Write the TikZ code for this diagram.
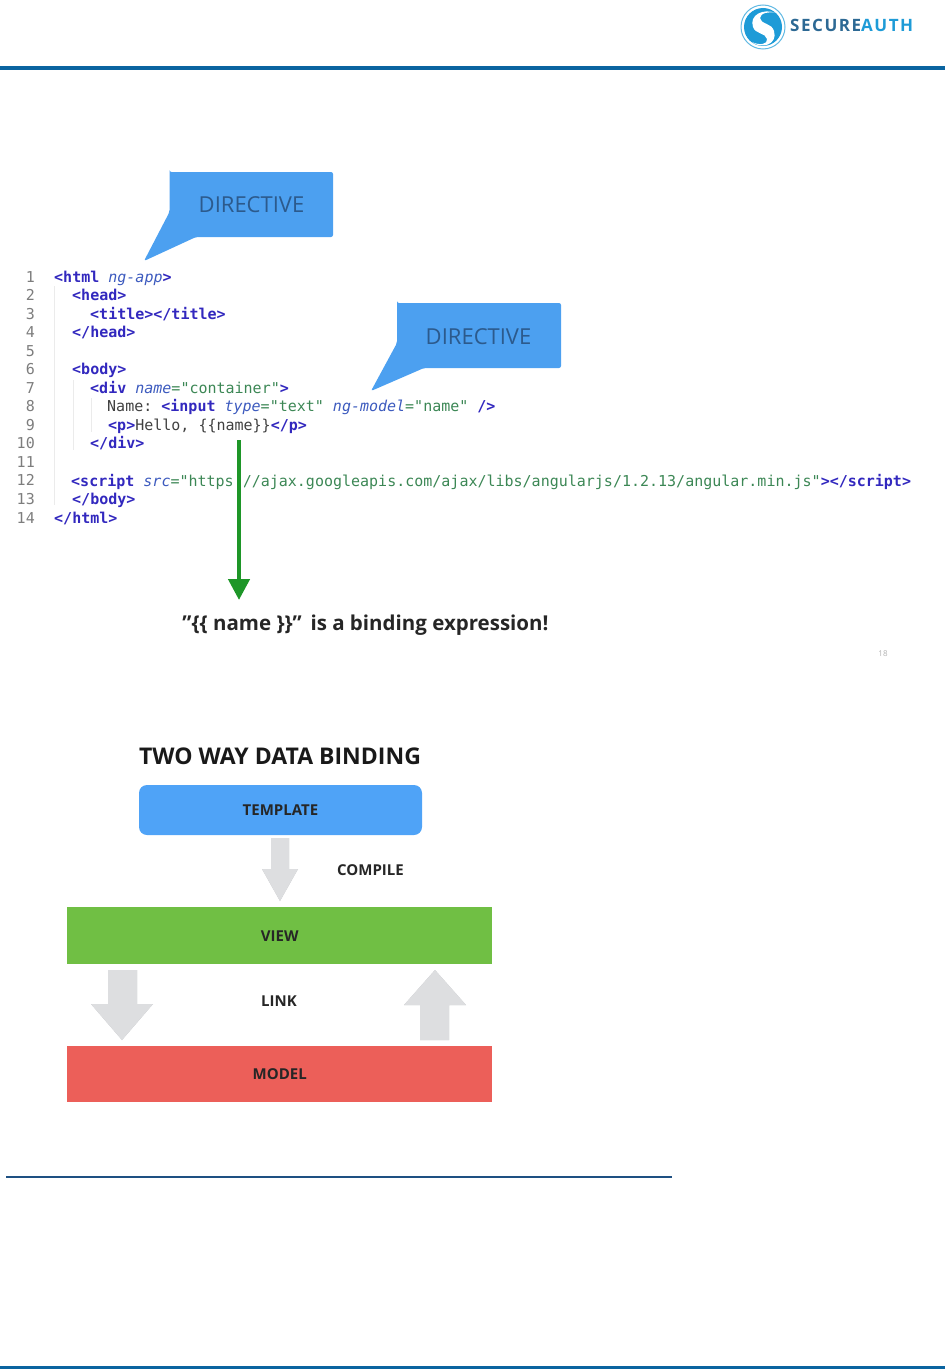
\documentclass[tikz,border=0pt]{standalone}
\usepackage{fontspec}
\setmonofont{DejaVu Sans Mono}
\setsansfont{Open Sans}
\newfontfamily\logofont[LetterSpace=9]{Open Sans}
\usepackage{tkz-euclide}
\usetikzlibrary{arrows.meta,calc}
\definecolor{BarClr}{RGB}{10,100,160}
\definecolor{RuleClr}{RGB}{30,80,130}
\definecolor{CalloutClr}{RGB}{76,160,240}
\definecolor{CalloutTxt}{RGB}{44,90,140}
\definecolor{TagClr}{RGB}{50,40,190}
\definecolor{AttrClr}{RGB}{60,90,190}
\definecolor{StrClr}{RGB}{60,135,85}
\definecolor{NumClr}{RGB}{125,125,125}
\definecolor{GuideClr}{RGB}{235,235,235}
\definecolor{GreenArrow}{RGB}{30,150,40}
\definecolor{TemplateClr}{RGB}{79,163,247}
\definecolor{ViewClr}{RGB}{112,191,68}
\definecolor{ModelClr}{RGB}{236,95,89}
\definecolor{BlockClr}{RGB}{221,222,224}
\definecolor{BlockEdge}{RGB}{190,191,193}
\definecolor{LogoDark}{RGB}{45,105,148}
\definecolor{LogoLight}{RGB}{30,155,215}
\newcommand{\Tg}[1]{\textcolor{TagClr}{\bfseries #1}}
\newcommand{\At}[1]{\textcolor{AttrClr}{\itshape #1}}
\newcommand{\St}[1]{\textcolor{StrClr}{#1}}
\tikzset{
  codeLine/.style={anchor=base west,inner sep=0pt,font=\ttfamily\fontsize{15}{15}\selectfont,text=black!75},
  codeNum/.style={anchor=base east,inner sep=0pt,font=\ttfamily\fontsize{15}{15}\selectfont,text=NumClr},
  calloutTxt/.style={inner sep=0pt,font=\sffamily\fontsize{22}{22}\selectfont,text=CalloutTxt},
  boxLabel/.style={inner sep=0pt,font=\sffamily\bfseries\fontsize{15}{15}\selectfont,text=black!85},
  bigBox/.style={draw=none,minimum width=425.5pt,minimum height=56.5pt,inner sep=0pt,font=\sffamily\bfseries\fontsize{15}{15}\selectfont,text=black!85},
}
\begin{document}
\begin{tikzpicture}[x=1pt,y=-1pt]
\useasboundingbox (0,0) rectangle (945,1370);
\tkzSetUpLine[line width=0.5pt,color=black]

% page furniture
\fill[BarClr] (0,66) rectangle (945,70);
\fill[BarClr] (0,1365.5) rectangle (945,1369);
\fill[RuleClr] (6,1176.3) rectangle (672,1178);

% logo
\draw[LogoLight!70,line width=1pt] (763,27) circle (22);
\fill[LogoLight] (763,27) circle (19);
\fill[white] (776,13) .. controls (763,8) and (749,15) .. (753,27)
  .. controls (755,34) and (766,33) .. (767,39)
  .. controls (768,44) and (760,46) .. (752,42)
  .. controls (762,50) and (778,44) .. (774,31)
  .. controls (772,23) and (760,24) .. (760,18)
  .. controls (760,13) and (770,11) .. (776,13) -- cycle;
\node[anchor=base west,inner sep=0pt,font=\logofont\bfseries\fontsize{17}{17}\selectfont] (logoTxt) at (790,32)
  {\textcolor{LogoDark}{SECURE}\textcolor{LogoLight}{AUTH}};

% callouts
\tkzDefPoints{169.5/172/Aa,333/172/Ab,333/237/Ac,196/237/Ad,144/261/Ae,169.5/212/Af}
\tkzDefPoints{397/303/Ba,561/303/Bb,561/368/Bc,424/368/Bd,371/391/Be,397/343/Bf}
\tkzFillPolygon[fill=CalloutClr,rounded corners=2pt](Aa,Ab,Ac,Ad,Ae,Af)
\tkzFillPolygon[fill=CalloutClr,rounded corners=2pt](Ba,Bb,Bc,Bd,Be,Bf)
\node[calloutTxt] (dirA) at (251.5,205) {DIRECTIVE};
\node[calloutTxt] (dirB) at (478.5,336.5) {DIRECTIVE};

% code
\foreach \pos/\top/\bot in {54.5/286/505,73/380/450,91/398/432}
  \draw[GuideClr,line width=1pt] (\pos,\top) -- (\pos,\bot);
\foreach \n in {1,...,14}
  \node[codeNum] (num\n) at (35,{282+18.54*(\n-1)}) {\n};
\node[codeLine] (lineA) at (54,282) {\Tg{<html} \At{ng-app}\Tg{>}};
\node[codeLine] (lineB) at (72,300.5) {\Tg{<head>}};
\node[codeLine] (lineC) at (90,319) {\Tg{<title></title>}};
\node[codeLine] (lineD) at (72,337.6) {\Tg{</head>}};
\node[codeLine] (lineF) at (72,374.7) {\Tg{<body>}};
\node[codeLine] (lineG) at (90,393.2) {\Tg{<div} \At{name}\St{="container"}\Tg{>}};
\node[codeLine] (lineH) at (107,411.8) {Name: \Tg{<input} \At{type}\St{="text"} \At{ng-model}\St{="name"} \Tg{/>}};
\node[codeLine] (lineI) at (108,430.3) {\Tg{<p>}Hello, \{\{name\}\}\Tg{</p>}};
\node[codeLine] (lineJ) at (90,448.9) {\Tg{</div>}};
\node[codeLine] (lineL) at (71,486) {\Tg{<script} \At{src}\St{="https://ajax.googleapis.com/ajax/libs/angularjs/1.2.13/angular.min.js"}\Tg{></script>}};
\node[codeLine] (lineM) at (72,504.5) {\Tg{</body>}};
\node[codeLine] (lineN) at (54,523) {\Tg{</html>}};

% binding expression
\coordinate (gTop) at (239,440);
\coordinate (gEnd) at (239,600);
\draw[white,line width=9pt] (239,470) -- (239,495);
\draw[GreenArrow,line width=4.5pt,-{Triangle[length=21pt,width=21pt]}] (gTop) -- (gEnd);
\node[inner sep=0pt,font=\sffamily\bfseries\fontsize{20.5}{20.5}\selectfont,text=black!85] (bindTxt) at (365.5,625) {"\{\{ name \}\}"\, is a binding expression!};
\node[inner sep=0pt,font=\sffamily\fontsize{8}{8}\selectfont,text=black!30] (pageNum) at (883,654) {18};

% two way data binding
\node[inner sep=0pt,font=\sffamily\bfseries\fontsize{23}{23}\selectfont,text=black!90] (title) at (280,756) {TWO WAY DATA BINDING};
\node[fill=TemplateClr,rounded corners=8pt,minimum width=283pt,minimum height=50pt,inner sep=0pt,font=\sffamily\bfseries\fontsize{15}{15}\selectfont,text=black!85] (template) at (280.5,810) {TEMPLATE};
\node[bigBox,fill=ViewClr] (view) at (279.7,935.7) {VIEW};
\node[bigBox,fill=ModelClr] (model) at (279.7,1074) {MODEL};

\tkzDefPoints{271/838/Ca,289/838/Cb,289/869/Cc,298/869/Cd,280/901/Ce,262/869/Cf,271/869/Cg}
\tkzDefPoints{108/970/Da,137/970/Db,137/1004/Dc,153/1004/Dd,122/1040/De,91/1004/Df,108/1004/Dg}
\tkzDefPoints{420/1040/Ea,449/1040/Eb,449/1005/Ec,466/1005/Ed,435/970/Ee,404/1005/Ef,420/1005/Eg}
\begin{scope}[shift={(0.6,1.2)}]
\tkzFillPolygon[fill=BlockEdge](Ca,Cb,Cc,Cd,Ce,Cf,Cg)
\tkzFillPolygon[fill=BlockEdge](Da,Db,Dc,Dd,De,Df,Dg)
\tkzFillPolygon[fill=BlockEdge](Ea,Eb,Ec,Ed,Ee,Ef,Eg)
\end{scope}
\tkzFillPolygon[fill=BlockClr](Ca,Cb,Cc,Cd,Ce,Cf,Cg)
\tkzFillPolygon[fill=BlockClr](Da,Db,Dc,Dd,De,Df,Dg)
\tkzFillPolygon[fill=BlockClr](Ea,Eb,Ec,Ed,Ee,Ef,Eg)

\node[boxLabel] (compile) at (370.5,870) {COMPILE};
\node[boxLabel] (link) at (279,1001) {LINK};

\end{tikzpicture}
\end{document}
